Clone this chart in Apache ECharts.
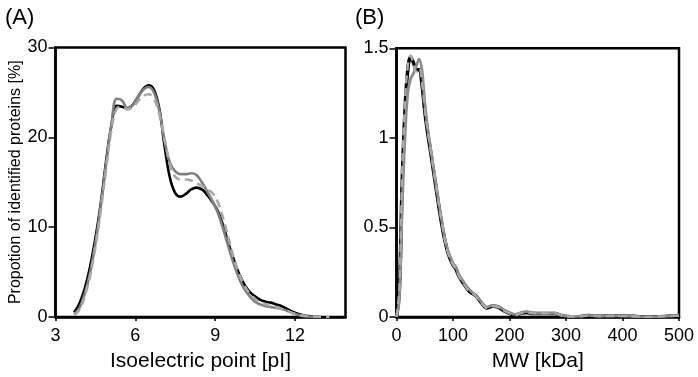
<!DOCTYPE html>
<html>
<head>
<meta charset="utf-8">
<script src="https://cdn.jsdelivr.net/npm/echarts@6/dist/echarts.min.js"></script>
<style>
html,body{margin:0;padding:0;background:#fff;}
#c{width:698px;height:377px;}
</style>
</head>
<body>
<div id="c"></div>
<script>
// ---- Panel A: isoelectric point ----
var pIx = [3.7,3.9,4.1,4.3,4.5,4.7,4.9,5.1,5.3,5.5,5.7,5.9,6.1,6.3,6.5,6.7,6.9,7.1,7.3,7.5,7.7,7.9,8.1,8.3,8.5,8.7,8.9,9.1,9.3,9.5,9.7,9.9,10.1,10.3,10.5,10.7,10.9,11.1,11.3,11.5,11.7,11.9,12.1,12.3,12.5,12.7,12.9,13.1,13.3];
var pIBlack = [0.5,1.5,3.2,5.6,8.8,12.6,17.3,21.3,23.5,23.4,23.2,23.6,24.5,25.4,25.8,25.3,23.2,19.0,15.5,13.8,13.4,13.7,14.2,14.4,14.2,13.6,12.8,11.8,10.2,8.2,6.4,4.8,3.6,2.8,2.3,1.9,1.7,1.6,1.4,1.2,0.9,0.6,0.35,0.2,0.1,0.05,0.02,null,null];
var pIGray = [0.3,1.0,2.6,4.9,8.2,12.3,17.0,21.4,24.3,24.1,23.3,23.6,24.5,25.3,25.6,25.0,23.0,19.6,17.2,16.2,15.9,15.9,16.0,15.8,15.0,14.0,12.9,11.6,9.8,7.8,5.9,4.3,3.1,2.3,1.7,1.4,1.2,1.1,1.0,0.9,0.7,0.45,0.25,0.12,0.05,0.02,0,null,null];
var pIDash = [0.2,0.8,2.3,4.6,7.8,11.8,16.4,20.8,23.2,23.4,23.1,23.3,24.0,24.6,24.8,24.3,22.6,19.8,17.0,15.6,15.3,15.3,15.2,14.9,14.6,14.2,13.8,12.8,11.0,8.8,6.6,4.8,3.5,2.6,2.0,1.6,1.4,1.2,1.1,0.9,0.7,0.45,0.25,0.15,0.1,0.06,0.03,0.01,0];
var pITicks = ['3','6','9','12'];
var pIYTicks = ['0','10','20','30'];

// ---- Panel B: molecular weight ----
var mwX = [0,5,10,15,20,25,30,35,40,45,50,55,60,70,80,90,100,105,110,120,130,140,150,160,170,180,190,200,210,220,230,240,250,260,270,280,290,300,320,340,360,380,400,420,440,460,480,500];
var mwBlack = [0,0.15,0.75,1.15,1.38,1.45,1.42,1.38,1.38,1.30,1.15,1.03,0.93,0.72,0.52,0.37,0.29,0.27,0.23,0.18,0.14,0.12,0.08,0.05,0.06,0.055,0.035,0.02,0.01,0.02,0.025,0.02,0.02,0.02,0.02,0.02,0.01,0.003,0.002,0.008,0.004,0.006,0.005,0.004,0.0,0.001,0.004,0.008];
var mwGray = [0,0.1,0.6,1.0,1.25,1.33,1.36,1.40,1.44,1.38,1.20,1.06,0.95,0.74,0.54,0.38,0.30,0.28,0.24,0.19,0.15,0.12,0.085,0.055,0.065,0.06,0.04,0.025,0.015,0.025,0.03,0.025,0.02,0.02,0.02,0.022,0.012,0.005,0.004,0.009,0.005,0.007,0.006,0.004,0.001,0.002,0.005,0.009];
var mwDash = [0,0.16,0.8,1.2,1.40,1.46,1.41,1.37,1.39,1.31,1.16,1.04,0.94,0.73,0.53,0.37,0.29,0.27,0.23,0.18,0.14,0.12,0.08,0.05,0.06,0.055,0.035,0.02,0.01,0.02,0.025,0.02,0.02,0.02,0.02,0.02,0.01,0.003,0.002,0.008,0.004,0.006,0.005,0.004,0.0,0.001,0.004,0.008];
var mwTicks = ['0','100','200','300','400','500'];
var mwYTicks = ['0','0.5','1','1.5'];

function pairs(xs, ys){
  var out = [];
  for (var i=0;i<xs.length;i++){ if (ys[i]!==null && ys[i]!==undefined) out.push([xs[i], ys[i]]); }
  return out;
}

var FONT = 'Liberation Sans, Arial, sans-serif';
function xAx(gi, min, max, interval, name){
  return {
    type:'value', gridIndex:gi, min:min, max:max, interval:interval,
    name:name, nameLocation:'middle', nameGap:34,
    nameTextStyle:{fontFamily:FONT, fontSize:21, color:'#000'},
    axisLine:{show:true, lineStyle:{color:'#000', width:2.5}},
    axisTick:{show:true, length:4, lineStyle:{color:'#000', width:1.5}},
    axisLabel:{fontFamily:FONT, fontSize:18, color:'#000', margin:10, showMaxLabel: (gi===1),
      formatter:function(v){ return (Math.abs(v/interval - Math.round(v/interval))<1e-6) ? String(v) : ''; }},
    splitLine:{show:false}
  };
}
function yAx(gi, max, interval, name){
  return {
    type:'value', gridIndex:gi, min:0, max:max, interval:interval,
    name:name, nameLocation:'middle', nameGap:32,
    nameTextStyle:{fontFamily:FONT, fontSize:16, color:'#000'},
    axisLine:{show:true, lineStyle:{color:'#000', width:2.5}},
    axisTick:{show:true, length:7, lineStyle:{color:'#000', width:1.5}},
    axisLabel:{fontFamily:FONT, fontSize:18, color:'#000', margin:8},
    splitLine:{show:false}
  };
}
function line(xi, yi, data, color, width, dashed, z){
  return {
    type:'line', xAxisIndex:xi, yAxisIndex:yi, data:data, smooth:0.4, showSymbol:false, symbol:'none',
    lineStyle:{color:color, width:width, type: dashed ? [8,5] : 'solid'}, z:z, animation:false
  };
}

var chart = echarts.init(document.getElementById('c'), null, {renderer:'canvas'});
chart.setOption({
  animation:false,
  backgroundColor:'#fff',
  title:[
    {text:'(A)', left:0, top:2, textStyle:{fontFamily:FONT, fontSize:22, fontWeight:'normal', color:'#000'}},
    {text:'(B)', left:350, top:2, textStyle:{fontFamily:FONT, fontSize:22, fontWeight:'normal', color:'#000'}}
  ],
  grid:[
    {left:55.5, right:352.5, top:47.5, bottom:58.7, show:true, borderColor:'#000', borderWidth:2.5, backgroundColor:'transparent'},
    {left:396.5, right:19, top:48.3, bottom:58.7, show:true, borderColor:'#000', borderWidth:2.5, backgroundColor:'transparent'}
  ],
  xAxis:[ xAx(0, 3, 13.9, 3, 'Isoelectric point [pI]'), xAx(1, 0, 500, 100, 'MW [kDa]') ],
  yAxis:[ yAx(0, 30, 10, 'Propotion of identified proteins [%]'), yAx(1, 1.5, 0.5, '') ],
  series:[
    line(0,0,pairs(pIx,pIBlack),'#000',2.6,false,3),
    line(0,0,pairs(pIx,pIGray),'#808080',2.6,false,4),
    line(0,0,pairs(pIx,pIDash),'#a8a8a8',2.6,true,5),
    line(1,1,pairs(mwX,mwBlack),'#000',3.5,false,3),
    line(1,1,pairs(mwX,mwGray),'#8c8c8c',2.8,false,4),
    line(1,1,pairs(mwX,mwDash),'#a8a8a8',2.4,true,5)
  ]
});
</script>
</body>
</html>
